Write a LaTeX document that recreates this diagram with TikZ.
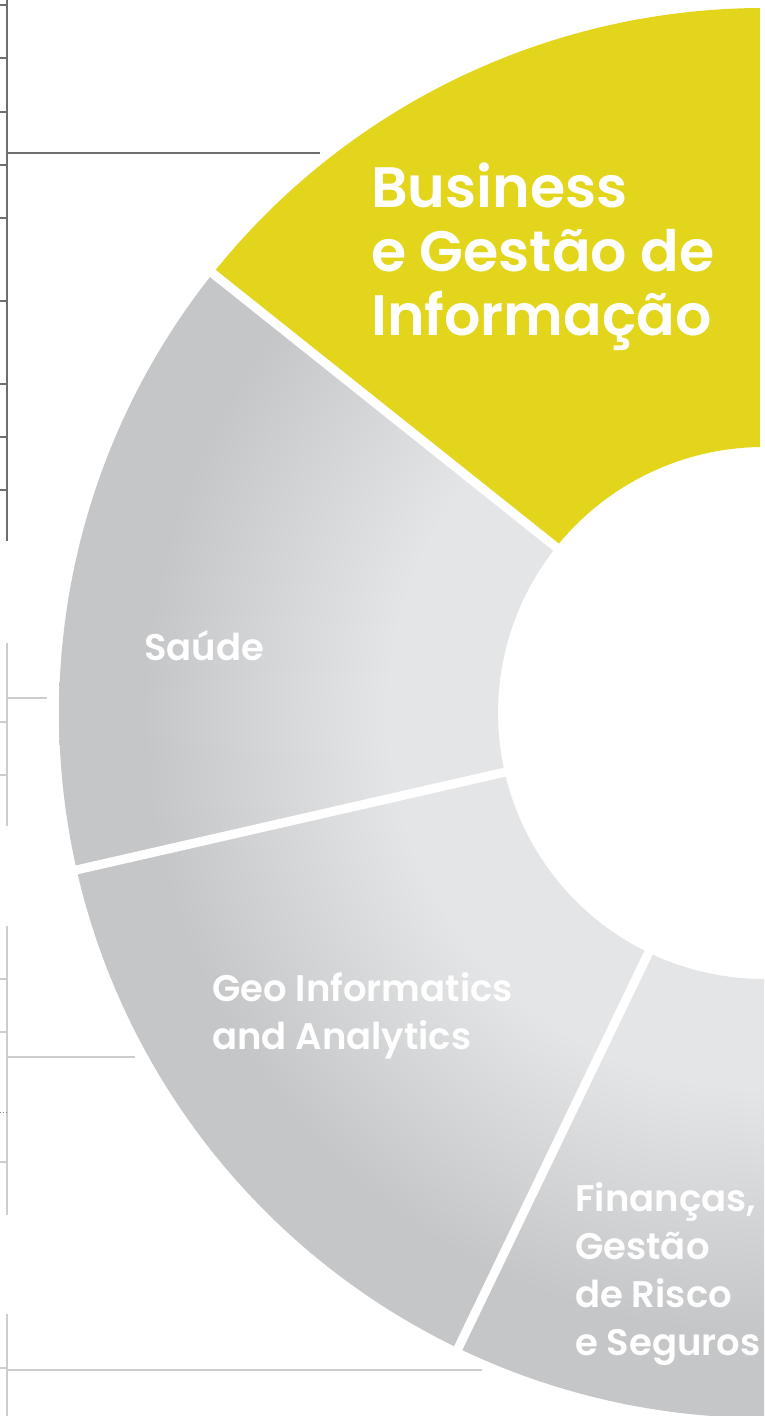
\documentclass[tikz,border=0pt]{standalone}
\usepackage{fontspec}
\setmainfont{Poppins}[BoldFont={Poppins SemiBold}]
\usetikzlibrary{calc}
\definecolor{ringyellow}{HTML}{E2D51C}
\definecolor{ringdark}{HTML}{C5C6C8}
\definecolor{ringlight}{HTML}{E4E5E7}
\definecolor{axisdark}{HTML}{6E6E6E}
\definecolor{axislight}{HTML}{CDCDCD}
\pgfdeclareradialshading{ringshade}{\pgfpoint{0bp}{0bp}}{color(0bp)=(ringlight); color(13.3bp)=(ringlight); color(22bp)=(ringdark); color(50bp)=(ringdark)}
\begin{document}
\begin{tikzpicture}[x=1pt,y=1pt,
  biglabel/.style={text=white, font=\bfseries\fontsize{57}{64}\selectfont, align=left, inner sep=0pt, anchor=base west},
  smalllabel/.style={text=white, font=\bfseries\fontsize{37}{48}\selectfont, align=left, inner sep=0pt, anchor=base west},
  darkaxis/.style={draw=axisdark, line width=2pt},
  darktick/.style={draw=axisdark, line width=1.6pt},
  lightaxis/.style={draw=axislight, line width=2pt},
  lighttick/.style={draw=axislight, line width=1.4pt},
  separator/.style={draw=white, line width=9pt}]
\useasboundingbox (0,0) rectangle (764,1416);
\clip (0,0) rectangle (764,1416);
\def\Rout{705}
\def\Rin{266}
\coordinate (C) at (764,703);
% left background axes (top, dark)
\coordinate (ta1) at (7,1416);
\coordinate (ta2) at (7,875);
\draw[darkaxis] (ta1) -- (ta2);
\foreach \yy in {5,58,112,165,218,301,384,437,490}
  \draw[darktick] (0,1416-\yy) -- (7,1416-\yy);
\coordinate (th1) at (7,1263);
\coordinate (th2) at (320,1263);
\draw[darkaxis] (th1) -- (th2);
% middle axis 1
\coordinate (ma1) at (7,773);
\coordinate (ma2) at (7,590);
\draw[lightaxis] (ma1) -- (ma2);
\foreach \yy in {722,775}
  \draw[lighttick] (0,1416-\yy) -- (7,1416-\yy);
\coordinate (mh1) at (7,718);
\coordinate (mh2) at (47,718);
\draw[lightaxis] (mh1) -- (mh2);
% middle axis 2
\coordinate (na1) at (7,490);
\coordinate (na2) at (7,201);
\draw[lightaxis] (na1) -- (na2);
\foreach \yy in {979,1032,1162}
  \draw[lighttick] (0,1416-\yy) -- (7,1416-\yy);
\draw[draw=gray, line width=0.8pt, dotted] (0,1416-1112) -- (7,1416-1112);
\coordinate (nh1) at (7,359);
\coordinate (nh2) at (135,359);
\draw[lightaxis] (nh1) -- (nh2);
% bottom axis
\coordinate (ba1) at (7,102);
\coordinate (ba2) at (7,0);
\draw[lightaxis] (ba1) -- (ba2);
\draw[lighttick] (0,48) -- (7,48);
\coordinate (bh1) at (7,46);
\coordinate (bh2) at (482,46);
\draw[lightaxis] (bh1) -- (bh2);
% ring sectors
\fill[ringyellow] ($(C)+(90:\Rout)$) arc[start angle=90, end angle=141.43, radius=\Rout]
  -- ($(C)+(141.43:\Rin)$) arc[start angle=141.43, end angle=90, radius=\Rin] -- cycle;
\foreach \aa/\bb in {141.43/192.86, 192.86/244.29, 244.29/295.71}{
  \begin{scope}
    \clip ($(C)+(\aa:\Rout)$) arc[start angle=\aa, end angle=\bb, radius=\Rout]
      -- ($(C)+(\bb:\Rin)$) arc[start angle=\bb, end angle=\aa, radius=\Rin] -- cycle;
    \shade[shading=ringshade] (C) circle[radius=\Rout];
  \end{scope}
}
% white separators (only across the ring)
\foreach \aa in {90,141.43,192.86,244.29}
  \draw[separator] ($(C)+(\aa:\Rin-5)$) -- ($(C)+(\aa:\Rout+1)$);
% labels (anchor = baseline of last line)
\node[biglabel] (business) at (371,1080) {Business\\e Gestão de\\Informação};
\node[smalllabel] (saude) at (144,755) {Saúde};
\node[smalllabel] (geo) at (212,366) {Geo Informatics\\and Analytics};
\node[smalllabel] (financas) at (575,60) {Finanças,\\Gestão\\de Risco\\e Seguros};
\end{tikzpicture}
\end{document}
